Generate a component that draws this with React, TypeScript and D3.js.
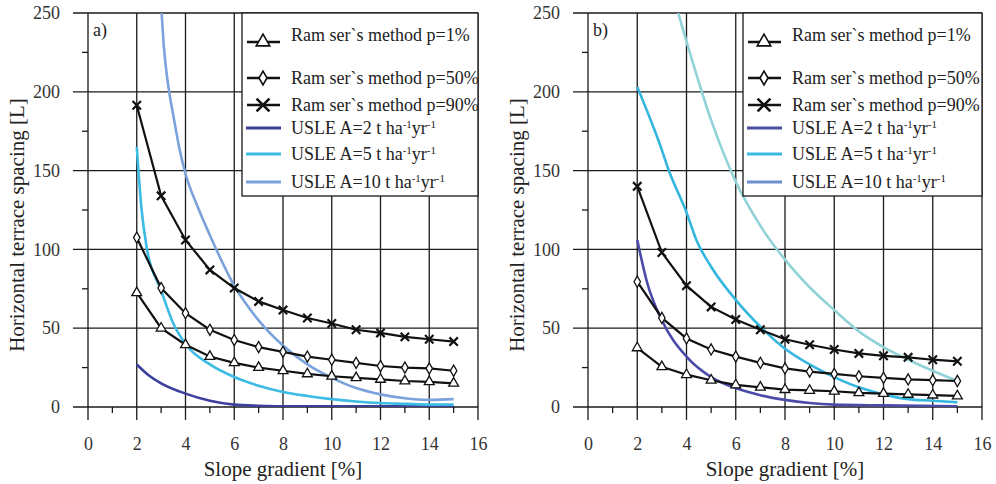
import React, { useLayoutEffect, useRef } from 'react';
import * as d3 from 'd3';

type Pt = [number, number];

const FONT = '"Liberation Serif", "Times New Roman", serif';

// axes
const slopes = [2, 3, 4, 5, 6, 7, 8, 9, 10, 11, 12, 13, 14, 15];
const xTicks = [0, 2, 4, 6, 8, 10, 12, 14, 16];
const xMinorTicks = [1, 3, 5, 7, 9, 11, 13, 15];
const yTicks = [0, 50, 100, 150, 200, 250];
const yMinorTicks = [25, 75, 125, 175, 225];

const xTitle = 'Slope gradient [%]';
const yTitle = 'Horizontal terrace spacing [L]';

const ramserLabels = ['Ram ser`s method p=1%', 'Ram ser`s method p=50%', 'Ram ser`s method p=90%'];
const usleLabels = ['USLE A=2 t ha', 'USLE A=5 t ha', 'USLE A=10 t ha'];

// panel a)
const ramser1A = [72.5, 50, 39.5, 32, 28, 25, 23, 21, 19.5, 18.5, 17.5, 16.5, 16, 15];
const ramser50A = [107.5, 75.5, 59.5, 49, 42.5, 38, 35, 32, 30, 28, 26, 25, 24.5, 23];
const ramser90A = [191.5, 134, 106, 87, 75.5, 67, 61.5, 56.5, 53, 49, 47, 44.5, 43, 41.5];
const usle2A: Pt[] = [[2, 27], [2.5, 20], [3, 15], [4, 8.5], [5, 4], [6, 1.5], [7, 0.8], [8, 0.5], [10, 0.5], [12, 0.5], [15, 0.5]];
const usle5A: Pt[] = [[2, 165], [2.2, 125], [2.4, 102], [3, 74], [3.5, 53], [4, 40], [5, 27], [6, 19], [7, 13.5], [8, 9.5], [9, 7], [10, 5], [11, 3.5], [12, 2.5], [13, 2], [14, 1.5], [15, 1.5]];
const usle10A: Pt[] = [[3.02, 250], [3.1, 231], [3.2, 215], [3.35, 198], [3.5, 185], [3.75, 164], [4, 148], [4.5, 127], [5, 109], [6, 77], [7, 55], [8, 39], [9, 27], [10, 18.5], [11, 12], [12, 8], [13, 5.5], [14, 4.5], [15, 5]];

// panel b)
const ramser1B = [37.5, 25.5, 20.5, 17, 14, 12.5, 11, 10.5, 10, 9, 8.5, 8, 7.5, 7];
const ramser50B = [79.5, 56.5, 43.5, 36.5, 32, 28, 24.5, 22.5, 21, 19.5, 18.5, 17.5, 17, 16.5];
const ramser90B = [140, 98, 77, 63.5, 55.5, 49, 43, 39.5, 36.5, 34, 32.5, 31.5, 30, 29];
const usle2B: Pt[] = [[2, 106], [2.4, 79], [3, 55], [4, 32], [5, 19], [6, 12], [7, 7.5], [8, 4.5], [9, 2.5], [10, 1.5], [12, 1], [15, 0.5]];
const usle5B: Pt[] = [[2, 203], [3, 163], [3.26, 151], [4, 123.5], [4.4, 106], [5, 89], [6, 68], [7, 51], [8, 37], [9, 27], [10, 19], [11, 12.5], [12, 8], [13, 5], [14, 4], [15, 3]];
const usle10B: Pt[] = [[3.66, 250], [4, 232], [5, 182], [6, 143], [7, 115], [8, 93.5], [9, 76], [10, 61.5], [11, 48], [12, 38], [13, 30], [14, 23], [15, 16.5]];

interface PanelCfg {
  id: string;
  label: string;
  left: number;
  right: number;
  yTitleX: number;
  ramser: number[][];
  usle: Pt[][];
  usleColors: string[];
  legendColors: string[];
}

const panels: PanelCfg[] = [
  {
    id: 'a',
    label: 'a)',
    left: 88,
    right: 478,
    yTitleX: 24,
    ramser: [ramser1A, ramser50A, ramser90A],
    usle: [usle2A, usle5A, usle10A],
    usleColors: ['#3d3f9c', '#3cbbe3', '#7ba2da'],
    legendColors: ['#3d3f9c', '#3cbbe3', '#7ba2da'],
  },
  {
    id: 'b',
    label: 'b)',
    left: 588,
    right: 982,
    yTitleX: 524,
    ramser: [ramser1B, ramser50B, ramser90B],
    usle: [usle2B, usle5B, usle10B],
    usleColors: ['#4a4aa8', '#35b6df', '#92d3d8'],
    legendColors: ['#4b4f9e', '#39b9e0', '#6b8fd0'],
  },
];

const TOP = 13;
const BOTTOM = 407;
const GRID = '#1a1a1a';

const symbols = [d3.symbolTriangle, d3.symbolDiamond, d3.symbolTimes];
const symbolSizes = [42, 36, 48];
const legendSymbolSizes = [80, 56, 110];

function drawPanel(svg: d3.Selection<SVGSVGElement, unknown, null, undefined>, cfg: PanelCfg) {
  const x = d3.scaleLinear().domain([0, 16]).range([cfg.left, cfg.right]);
  const y = d3.scaleLinear().domain([0, 250]).range([BOTTOM, TOP]);
  const g = svg.append('g').style('font-family', FONT);

  g.append('clipPath')
    .attr('id', 'clip-' + cfg.id)
    .append('rect')
    .attr('x', cfg.left)
    .attr('y', TOP)
    .attr('width', cfg.right - cfg.left)
    .attr('height', BOTTOM - TOP);

  // horizontal grid lines (run out to the left as ticks)
  g.append('g')
    .selectAll('line')
    .data(yTicks)
    .join('line')
    .attr('x1', cfg.left - 15)
    .attr('x2', cfg.right)
    .attr('y1', (d) => y(d))
    .attr('y2', (d) => y(d))
    .attr('stroke', GRID)
    .attr('stroke-width', 1.3);

  // vertical grid lines (run out below as ticks)
  g.append('g')
    .selectAll('line')
    .data(xTicks)
    .join('line')
    .attr('x1', (d) => x(d))
    .attr('x2', (d) => x(d))
    .attr('y1', TOP)
    .attr('y2', BOTTOM + 13)
    .attr('stroke', GRID)
    .attr('stroke-width', 1.3);

  // minor ticks
  g.append('g')
    .selectAll('line')
    .data(xMinorTicks)
    .join('line')
    .attr('x1', (d) => x(d))
    .attr('x2', (d) => x(d))
    .attr('y1', BOTTOM)
    .attr('y2', BOTTOM + 6)
    .attr('stroke', GRID)
    .attr('stroke-width', 1.3);
  g.append('g')
    .selectAll('line')
    .data(yMinorTicks)
    .join('line')
    .attr('x1', cfg.left - 6)
    .attr('x2', cfg.left)
    .attr('y1', (d) => y(d))
    .attr('y2', (d) => y(d))
    .attr('stroke', GRID)
    .attr('stroke-width', 1.3);

  // tick labels
  const xAxis = g
    .append('g')
    .attr('transform', `translate(0,${BOTTOM})`)
    .call(d3.axisBottom(x).tickValues(xTicks).tickSize(0).tickPadding(30));
  const yAxis = g
    .append('g')
    .attr('transform', `translate(${cfg.left},0)`)
    .call(d3.axisLeft(y).tickValues(yTicks).tickSize(0).tickPadding(28));
  [xAxis, yAxis].forEach((a) => {
    a.select('.domain').remove();
    a.attr('font-family', FONT).attr('font-size', 18);
    a.selectAll('text').style('font-family', FONT).attr('fill', '#333');
  });

  // axis titles
  g.append('text')
    .attr('x', (cfg.left + cfg.right) / 2)
    .attr('y', 476)
    .attr('text-anchor', 'middle')
    .attr('font-size', 21)
    .attr('fill', '#222')
    .text(xTitle);
  g.append('text')
    .attr('transform', `translate(${cfg.yTitleX},${225}) rotate(-90)`)
    .attr('text-anchor', 'middle')
    .attr('font-size', 21)
    .attr('fill', '#222')
    .text(yTitle);

  // panel label
  g.append('text')
    .attr('x', cfg.left + 5)
    .attr('y', 36)
    .attr('font-size', 18)
    .attr('fill', '#222')
    .text(cfg.label);

  const plot = g.append('g').attr('clip-path', `url(#clip-${cfg.id})`);

  // USLE curves
  const curve = d3
    .line<Pt>()
    .x((d) => x(d[0]))
    .y((d) => y(d[1]))
    .curve(d3.curveMonotoneX);
  cfg.usle.forEach((s, i) => {
    plot
      .append('path')
      .datum(s)
      .attr('fill', 'none')
      .attr('stroke', cfg.usleColors[i])
      .attr('stroke-width', 2.6)
      .attr('d', curve);
  });

  // Ramser lines with markers
  const line = d3
    .line<number>()
    .x((d, i) => x(slopes[i]))
    .y((d) => y(d));
  cfg.ramser.forEach((s, i) => {
    plot
      .append('path')
      .datum(s)
      .attr('fill', 'none')
      .attr('stroke', '#111')
      .attr('stroke-width', 2.2)
      .attr('d', line);
    plot
      .append('g')
      .selectAll('path')
      .data(s)
      .join('path')
      .attr('transform', (d, j) => `translate(${x(slopes[j])},${y(d)})`)
      .attr('d', d3.symbol(symbols[i], symbolSizes[i]))
      .attr('fill', i === 2 ? 'none' : '#fff')
      .attr('stroke', '#111')
      .attr('stroke-width', i === 2 ? 2.2 : 1.3);
  });

  // legend
  const lw = cfg.right - cfg.left > 392 ? 239 : 236;
  const lx = cfg.right - lw;
  const lg = g.append('g').attr('font-size', 18).attr('fill', '#222');
  lg.append('rect')
    .attr('x', lx)
    .attr('y', TOP)
    .attr('width', lw)
    .attr('height', 183)
    .attr('fill', '#fff')
    .attr('stroke', GRID)
    .attr('stroke-width', 1.3);

  const markerRows = [29, 65, 92];
  const textRows = [22, 65, 92];
  ramserLabels.forEach((lab, i) => {
    const my = TOP + markerRows[i];
    lg.append('line')
      .attr('x1', lx + 5)
      .attr('x2', lx + 38)
      .attr('y1', my)
      .attr('y2', my)
      .attr('stroke', '#111')
      .attr('stroke-width', 2.4);
    lg.append('path')
      .attr('transform', `translate(${lx + 21},${my})`)
      .attr('d', d3.symbol(symbols[i], legendSymbolSizes[i]))
      .attr('fill', i === 2 ? 'none' : '#fff')
      .attr('stroke', '#111')
      .attr('stroke-width', i === 2 ? 2.6 : 1.6);
    lg.append('text')
      .attr('x', lx + 49)
      .attr('y', TOP + textRows[i] + 6)
      .text(lab);
  });

  const usleRows = [115, 141, 169];
  usleLabels.forEach((lab, i) => {
    const my = TOP + usleRows[i];
    lg.append('line')
      .attr('x1', lx + 4)
      .attr('x2', lx + 39)
      .attr('y1', my)
      .attr('y2', my)
      .attr('stroke', cfg.legendColors[i])
      .attr('stroke-width', 3);
    const t = lg.append('text').attr('x', lx + 49).attr('y', my + 6);
    t.append('tspan').text(lab);
    t.append('tspan').attr('font-size', 11).attr('dy', -6).text('-1');
    t.append('tspan').attr('dy', 6).text('yr');
    t.append('tspan').attr('font-size', 11).attr('dy', -6).text('-1');
  });
}

const App = () => {
  const chart = useRef<SVGSVGElement>(null);

  useLayoutEffect(() => {
    const svg = d3.select(chart.current as SVGSVGElement);
    svg.selectAll('*').remove();
    panels.forEach((p) => drawPanel(svg, p));
  }, []);

  return (
    <svg
      ref={chart}
      width={996}
      height={484}
      style={{ position: 'absolute', left: 0, top: 0, background: '#fff' }}
    />
  );
};

export default App;
